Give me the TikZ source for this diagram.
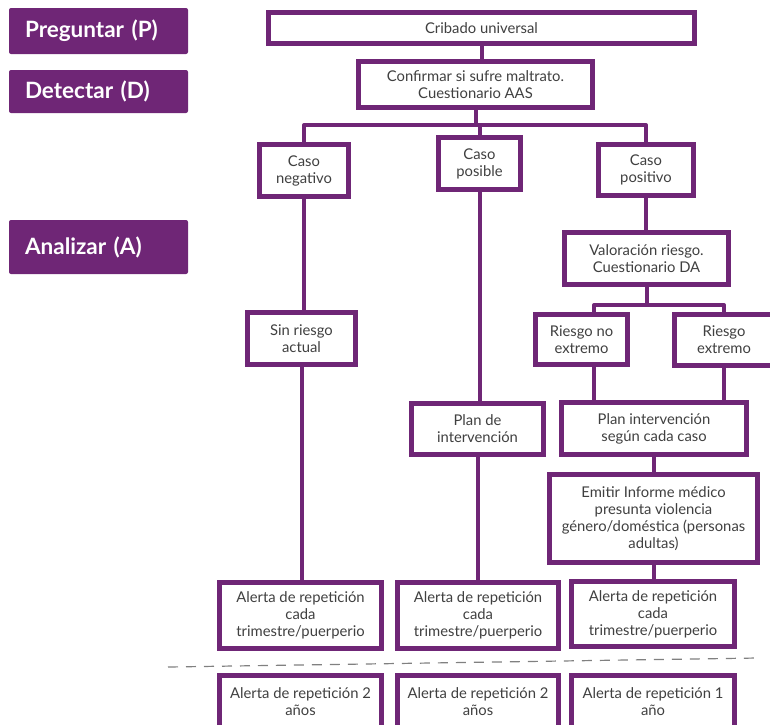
\documentclass[tikz,border=0pt]{standalone}
\usepackage{fontspec}
\setmainfont{Lato}
\usepackage{tikz}
\definecolor{violeta}{RGB}{111,38,118}
\definecolor{texto}{RGB}{64,64,64}

\begin{document}
\begin{tikzpicture}[x=1pt,y=-1pt,
    caja/.style={draw=violeta,line width=5pt,fill=white,text=texto,align=center,inner sep=0pt,font=\fontsize{14.8}{17}\selectfont},
    tam/.style 2 args={minimum width=#1,minimum height=#2},
    fase/.style={fill=violeta,rounded corners=2pt,text=white,font=\fontsize{22.5}{26}\selectfont\bfseries,inner xsep=16pt,text width=147pt,align=left},
    enlace/.style={draw=violeta,line width=4pt,line join=round},
    corte/.style={draw=gray,line width=1.2pt,dash pattern=on 10pt off 8pt}]
    \useasboundingbox (0,0) rectangle (770,724);

    % fases
    \node[fase,minimum height=46pt] (pregunta) at (98.5,31) {Preguntar (P)};
    \node[fase,minimum height=43pt] (detecta) at (98.5,91.5) {Detectar (D)};
    \node[fase,minimum height=54pt] (analiza) at (98.5,247) {Analizar (A)};

    % cajas
    \node[caja,tam={426pt}{31pt}] (cribado) at (481.5,28) {Cribado universal};
    \node[caja,tam={234pt}{46pt}] (confirmar) at (475.5,84.5) {Confirmar si sufre maltrato.\\Cuestionario AAS};
    \node[caja,tam={89pt}{52pt}] (negativo) at (304,170.5) {Caso\\negativo};
    \node[caja,tam={82pt}{52pt}] (posible) at (479.5,163.5) {Caso\\posible};
    \node[caja,tam={95pt}{51pt}] (positivo) at (646,170) {Caso\\positivo};
    \node[caja,tam={164pt}{52pt}] (valoracion) at (646.5,258.5) {Valoración riesgo.\\Cuestionario DA};
    \node[caja,tam={92pt}{50pt}] (noext) at (581.5,339.5) {Riesgo no\\extremo};
    \node[caja,tam={99pt}{51pt}] (ext) at (724,340) {Riesgo\\extremo};
    \node[caja,tam={108pt}{52pt}] (sinriesgo) at (301.5,338.5) {Sin riesgo\\actual};
    \node[caja,tam={132pt}{51pt}] (planA) at (477.5,429) {Plan de\\intervención};
    \node[caja,tam={185pt}{52pt}] (planB) at (654,428.5) {Plan intervención\\según cada caso};
    \node[caja,tam={208pt}{88pt}] (emitir) at (653.5,518.5) {Emitir Informe médico\\presunta violencia\\género/doméstica (personas\\adultas)};
    \node[caja,tam={162pt}{66pt}] (alertaA) at (300.5,615.5) {Alerta de repetición\\cada\\trimestre/puerperio};
    \node[caja,tam={161pt}{66pt}] (alertaB) at (478,615.5) {Alerta de repetición\\cada\\trimestre/puerperio};
    \node[caja,tam={163pt}{65pt}] (alertaC) at (653,614) {Alerta de repetición\\cada\\trimestre/puerperio};
    \node[caja,tam={162pt}{52pt}] (anualA) at (300.5,701.5) {Alerta de repetición 2\\años};
    \node[caja,tam={161pt}{52pt}] (anualB) at (478,701.5) {Alerta de repetición 2\\años};
    \node[caja,tam={163pt}{52pt}] (anualC) at (653,701.5) {Alerta de repetición 1\\año};

    % enlaces
    \draw[enlace] (cribado.south) -- (cribado.south |- confirmar.north);
    \draw[enlace] (confirmar.south) -- ++(0,15) coordinate (barra1);
    \draw[enlace] (negativo.north) |- (barra1) -| (positivo.north);
    \draw[enlace] (posible.north) -- (posible.north |- barra1);
    \draw[enlace] (negativo.south) -- (negativo.south |- sinriesgo.north);
    \draw[enlace] (sinriesgo.south) -- (sinriesgo.south |- alertaA.north);
    \draw[enlace] (posible.south) -- (posible.south |- planA.north);
    \draw[enlace] (planA.south) -- (planA.south |- alertaB.north);
    \draw[enlace] (positivo.south) -- (positivo.south |- valoracion.north);
    \draw[enlace] (valoracion.south) -- ++(0,18) coordinate (barra2);
    \draw[enlace] ([xshift=12.5pt]noext.north) |- (barra2) -| (ext.north);
    \draw[enlace] ([xshift=12.5pt]noext.south) -- ([xshift=12.5pt]noext.south |- planB.north);
    \draw[enlace] (ext.south) -- (ext.south |- planB.north);
    \draw[enlace] (planB.south) -- (planB.south |- emitir.north);
    \draw[enlace] (emitir.south) -- (emitir.south |- alertaC.north);

    % separacion
    \coordinate (corteI) at (168,667);
    \coordinate (corteD) at (757,658);
    \draw[corte] (corteI) -- (corteD);
\end{tikzpicture}
\end{document}
